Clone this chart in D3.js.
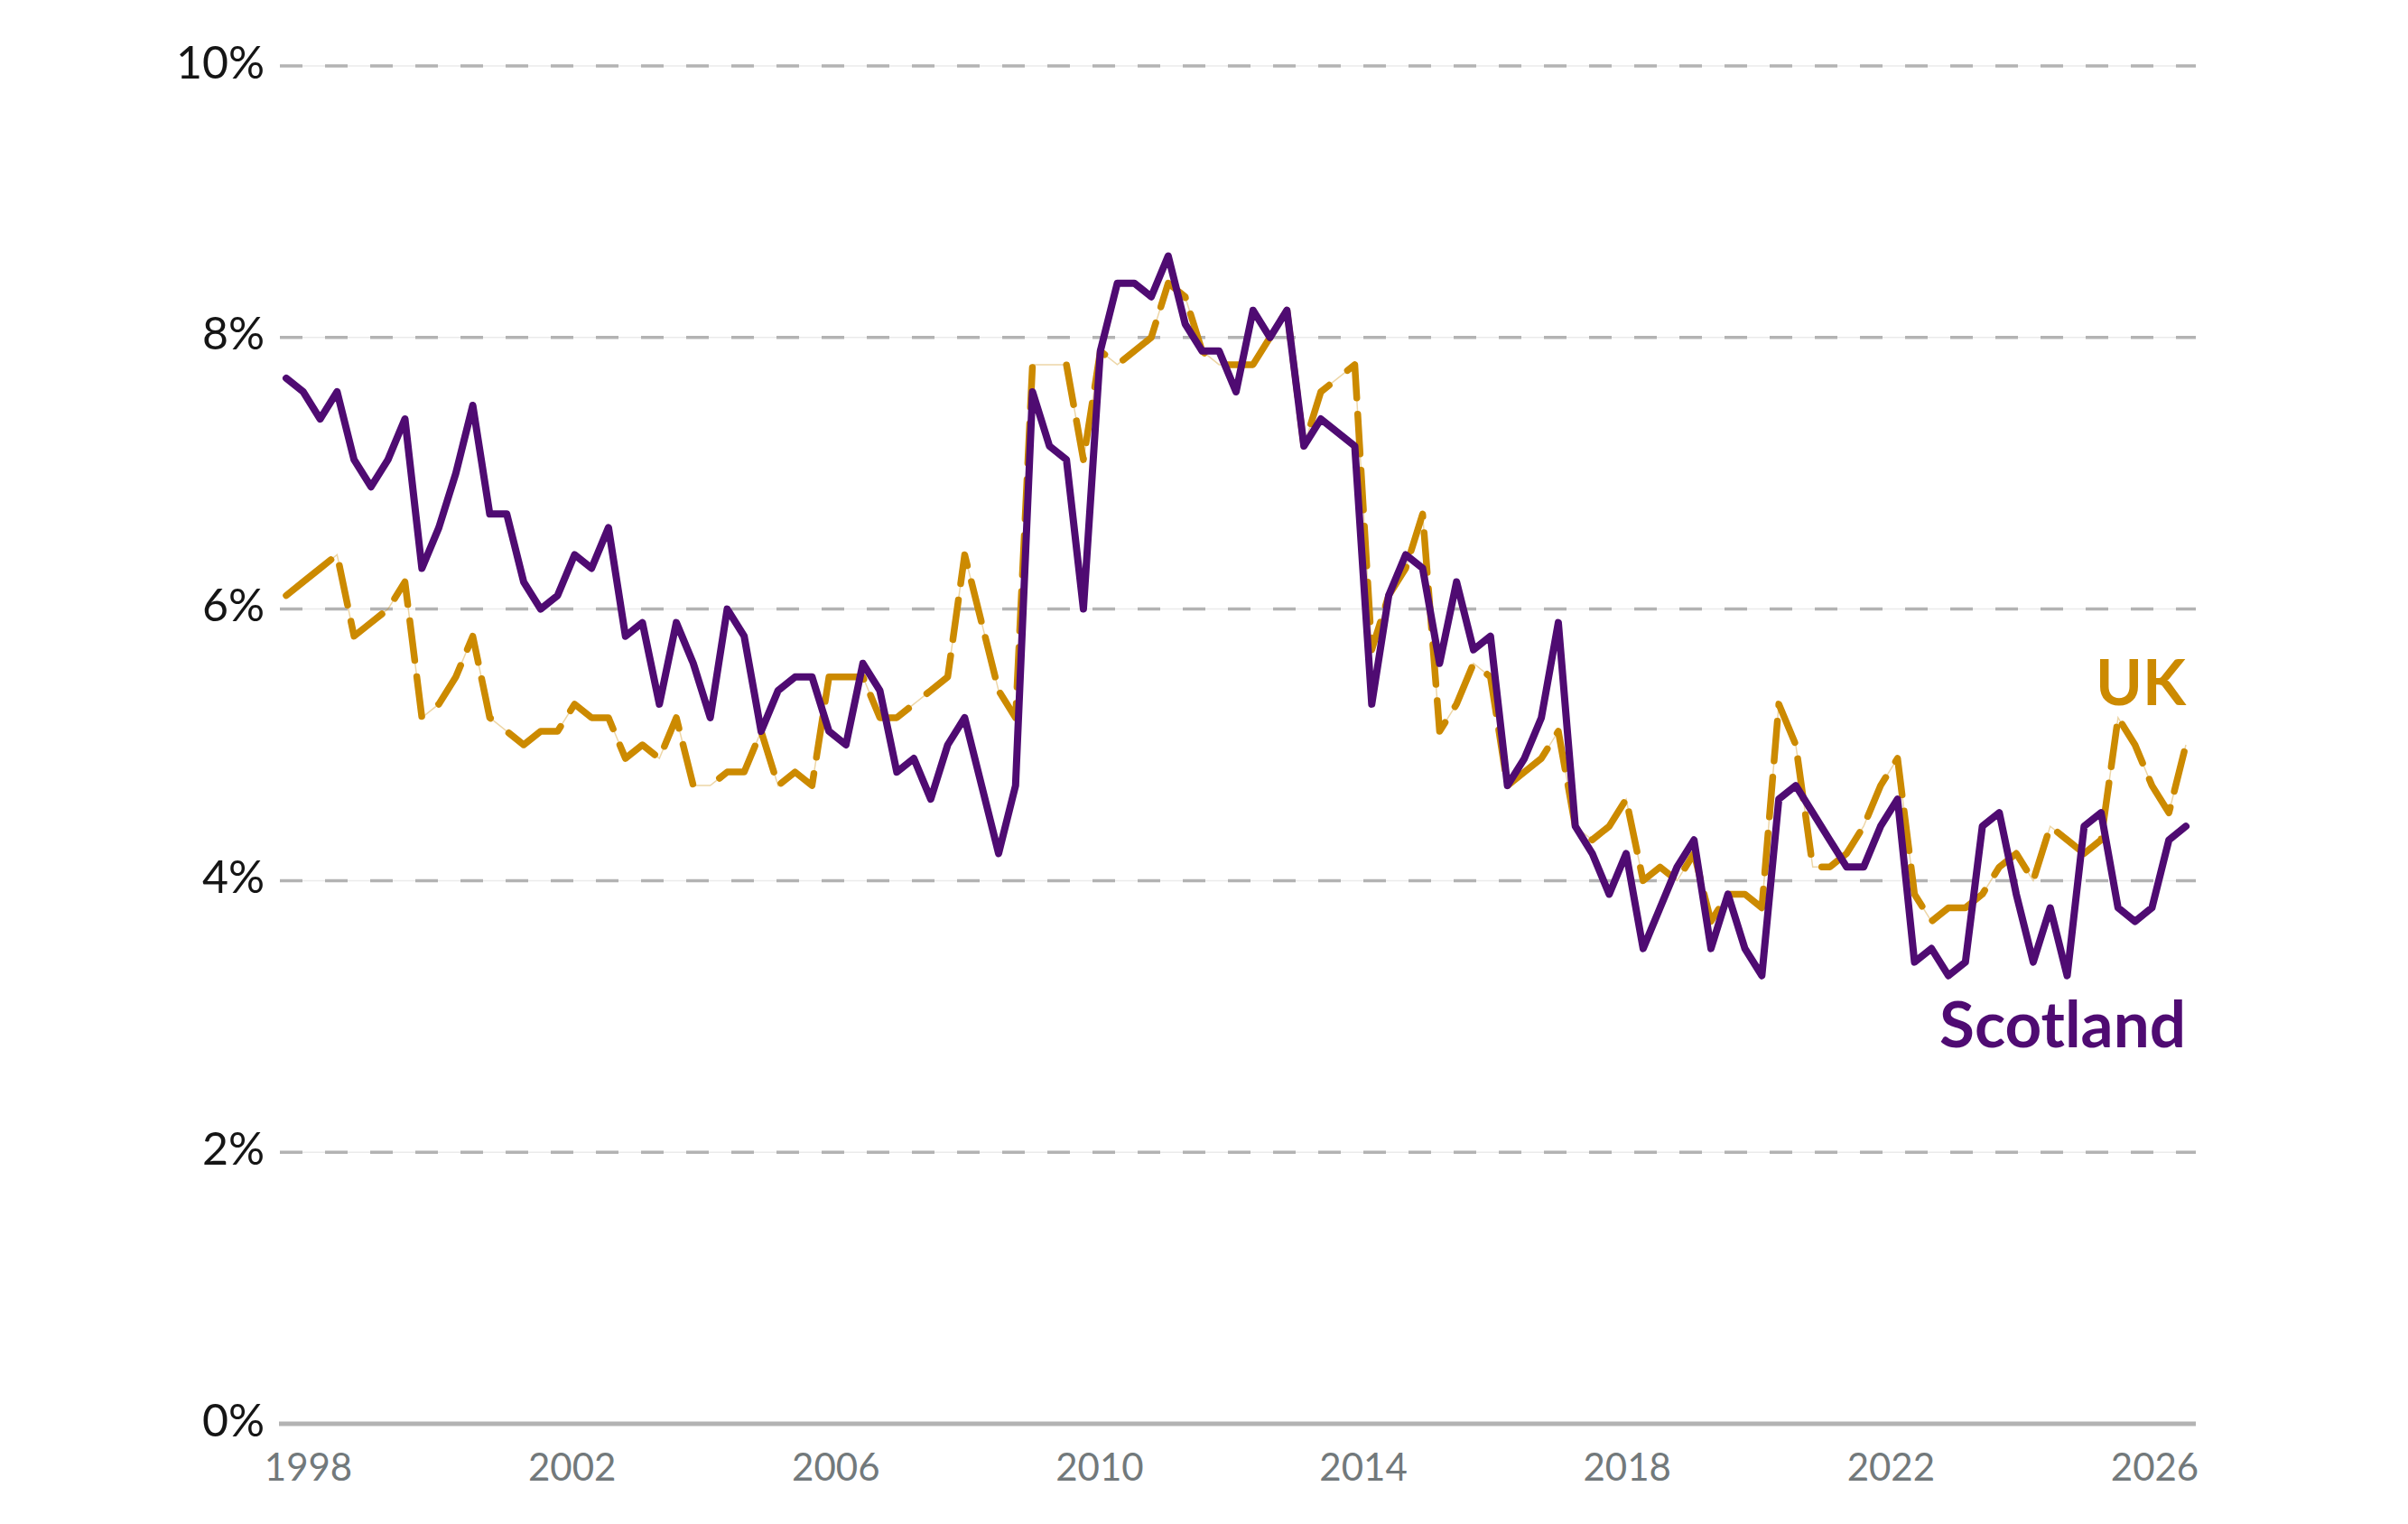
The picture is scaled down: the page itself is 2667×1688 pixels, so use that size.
<!DOCTYPE html>
<html>
<head>
<meta charset="utf-8">
<script src="https://cdn.jsdelivr.net/npm/d3@7"></script>
<style>
  html, body { margin: 0; padding: 0; background: #fff; }
  svg { display: block; font-family: Lato, "Open Sans", sans-serif; }
</style>
</head>
<body>
<div id="graph"></div>
<script>
// unemployment rate, %, one value per period
var scotland = [
  7.7, 7.6, 7.4, 7.6, 7.1, 6.9, 7.1, 7.4, 6.3, 6.6,
  7.0, 7.5, 6.7, 6.7, 6.2, 6.0, 6.1, 6.4, 6.3, 6.6,
  5.8, 5.9, 5.3, 5.9, 5.6, 5.2, 6.0, 5.8, 5.1, 5.4,
  5.5, 5.5, 5.1, 5.0, 5.6, 5.4, 4.8, 4.9, 4.6, 5.0,
  5.2, 4.7, 4.2, 4.7, 7.6, 7.2, 7.1, 6.0, 7.9, 8.4,
  8.4, 8.3, 8.6, 8.1, 7.9, 7.9, 7.6, 8.2, 8.0, 8.2,
  7.2, 7.4, 7.3, 7.2, 5.3, 6.1, 6.4, 6.3, 5.6, 6.2,
  5.7, 5.8, 4.7, 4.9, 5.2, 5.9, 4.4, 4.2, 3.9, 4.2,
  3.5, 3.8, 4.1, 4.3, 3.5, 3.9, 3.5, 3.3, 4.6, 4.7,
  4.5, 4.3, 4.1, 4.1, 4.4, 4.6, 3.4, 3.5, 3.3, 3.4,
  4.4, 4.5, 3.9, 3.4, 3.8, 3.3, 4.4, 4.5, 3.8, 3.7,
  3.8, 4.3, 4.4
]

var uk = [
  6.1, 6.2, 6.3, 6.4, 5.8, 5.9, 6.0, 6.2, 5.2, 5.3,
  5.5, 5.8, 5.2, 5.1, 5.0, 5.1, 5.1, 5.3, 5.2, 5.2,
  4.9, 5.0, 4.9, 5.2, 4.7, 4.7, 4.8, 4.8, 5.1, 4.7,
  4.8, 4.7, 5.5, 5.5, 5.5, 5.2, 5.2, 5.3, 5.4, 5.5,
  6.4, 5.9, 5.4, 5.2, 7.8, 7.8, 7.8, 7.1, 7.9, 7.8,
  7.9, 8.0, 8.4, 8.3, 7.9, 7.8, 7.8, 7.8, 8.0, 8.2,
  7.2, 7.6, 7.7, 7.8, 5.7, 6.1, 6.3, 6.7, 5.1, 5.3,
  5.6, 5.5, 4.7, 4.8, 4.9, 5.1, 4.4, 4.3, 4.4, 4.6,
  4.0, 4.1, 4.0, 4.2, 3.7, 3.9, 3.9, 3.8, 5.3, 5.0,
  4.1, 4.1, 4.2, 4.4, 4.7, 4.9, 3.9, 3.7, 3.8, 3.8,
  3.9, 4.1, 4.2, 4.0, 4.4, 4.3, 4.2, 4.3, 5.2, 5.0,
  4.7, 4.5, 5.0
]

var yTicks = [0, 2, 4, 6, 8, 10]
var yearTicks = [1998, 2002, 2006, 2010, 2014, 2018, 2022, 2026]

var purple = '#4f0b72'
var gold = '#cc8a00'

var width = 2667, height = 1688

var svg = d3.select('#graph').append('svg')
  .attr('width', width).attr('height', height)

var y = d3.scaleLinear().domain([0, 10]).range([1577, 73])
// points are plotted by position in the series, the year labels use their own scale
var x = d3.scaleLinear().domain([0, scotland.length - 1]).range([317, 2421])
var xYear = d3.scaleLinear().domain([1998, 2026]).range([341, 2386])

var gridLeft = 310, gridRight = 2432

// gridlines
var grid = svg.append('g')
grid.selectAll('line.faint').data(yTicks.filter(d => d > 0)).join('line')
  .attr('class', 'faint')
  .attr('x1', gridLeft).attr('x2', gridRight)
  .attr('y1', d => y(d)).attr('y2', d => y(d))
  .attr('stroke', '#ebebeb').attr('stroke-width', 1.5)
grid.selectAll('line.dash').data(yTicks.filter(d => d > 0)).join('line')
  .attr('class', 'dash')
  .attr('x1', gridLeft).attr('x2', gridRight)
  .attr('y1', d => y(d)).attr('y2', d => y(d))
  .attr('stroke', '#b3b3b3').attr('stroke-width', 3.5)
  .attr('stroke-dasharray', '25 25')

// baseline
svg.append('line')
  .attr('x1', gridLeft - 1).attr('x2', gridRight)
  .attr('y1', y(0)).attr('y2', y(0))
  .attr('stroke', '#b3b3b3').attr('stroke-width', 5)

// y axis labels
var yAxis = svg.append('g')
  .attr('transform', 'translate(293,0)')
  .call(d3.axisLeft(y).tickValues(yTicks).tickSize(0).tickPadding(0).tickFormat(d => d + '%'))
yAxis.select('.domain').remove()
yAxis.selectAll('text')
  .attr('x', 0).attr('dy', 13)
  .attr('font-family', 'Lato, "Open Sans", sans-serif')
  .attr('font-size', 50).attr('fill', '#151515')

// x axis labels
var xAxis = svg.append('g')
  .attr('transform', 'translate(0,' + y(0) + ')')
  .call(d3.axisBottom(xYear).tickValues(yearTicks).tickSize(0).tickFormat(d3.format('d')))
xAxis.select('.domain').remove()
xAxis.selectAll('text')
  .attr('y', 63).attr('dy', 0)
  .attr('font-family', 'Lato, "Open Sans", sans-serif')
  .attr('font-size', 42).attr('fill', '#72797b')

var line = d3.line()
  .x((d, i) => x(i))
  .y(d => y(d))

// cut a polyline into dashes, measuring length with the vertical weighted more
function dashify(pts, on, off, fx){
  var out = [], cur = [pts[0]], phase = 0, drawing = true
  for (var i = 1; i < pts.length; i++){
    var x0 = pts[i-1][0], y0 = pts[i-1][1], x1 = pts[i][0], y1 = pts[i][1]
    var len = Math.hypot((x1 - x0)/fx, y1 - y0)
    if (len == 0) continue
    var t = 0
    while (len - t > 1e-9){
      var remain = (drawing ? on : off) - phase
      if (len - t <= remain){
        phase += len - t
        t = len
        if (drawing) cur.push([x1, y1])
      } else {
        t += remain
        var f = t/len
        var p = [x0 + (x1 - x0)*f, y0 + (y1 - y0)*f]
        if (drawing){ cur.push(p); out.push(cur); cur = null }
        else cur = [p]
        drawing = !drawing
        phase = 0
      }
    }
  }
  if (drawing && cur && cur.length > 1) out.push(cur)
  return out
}

// UK: faint continuous line under dashes
svg.append('path')
  .attr('d', line(uk))
  .attr('fill', 'none').attr('stroke', gold)
  .attr('stroke-opacity', 0.35).attr('stroke-width', 1.5)

var ukPts = uk.map((d, i) => [x(i), y(d)])
var ukDashes = dashify(ukPts, 44, 18, 2.6)
svg.append('g').selectAll('path').data(ukDashes).join('path')
  .attr('d', d3.line())
  .attr('fill', 'none').attr('stroke', gold)
  .attr('stroke-width', 7.5).attr('stroke-linecap', 'round').attr('stroke-linejoin', 'round')

// Scotland
svg.append('path')
  .attr('d', line(scotland))
  .attr('fill', 'none').attr('stroke', purple)
  .attr('stroke-width', 8).attr('stroke-linecap', 'round').attr('stroke-linejoin', 'round')

// series labels
var last = scotland.length - 1
svg.append('text')
  .attr('x', x(last)).attr('y', y(5.29))
  .attr('text-anchor', 'end')
  .attr('font-size', 70).attr('font-weight', 700).attr('fill', gold)
  .text('UK')
svg.append('text')
  .attr('x', x(last)).attr('y', y(2.77))
  .attr('text-anchor', 'end')
  .attr('font-size', 71).attr('font-weight', 700).attr('fill', purple)
  .text('Scotland')
</script>
</body>
</html>
